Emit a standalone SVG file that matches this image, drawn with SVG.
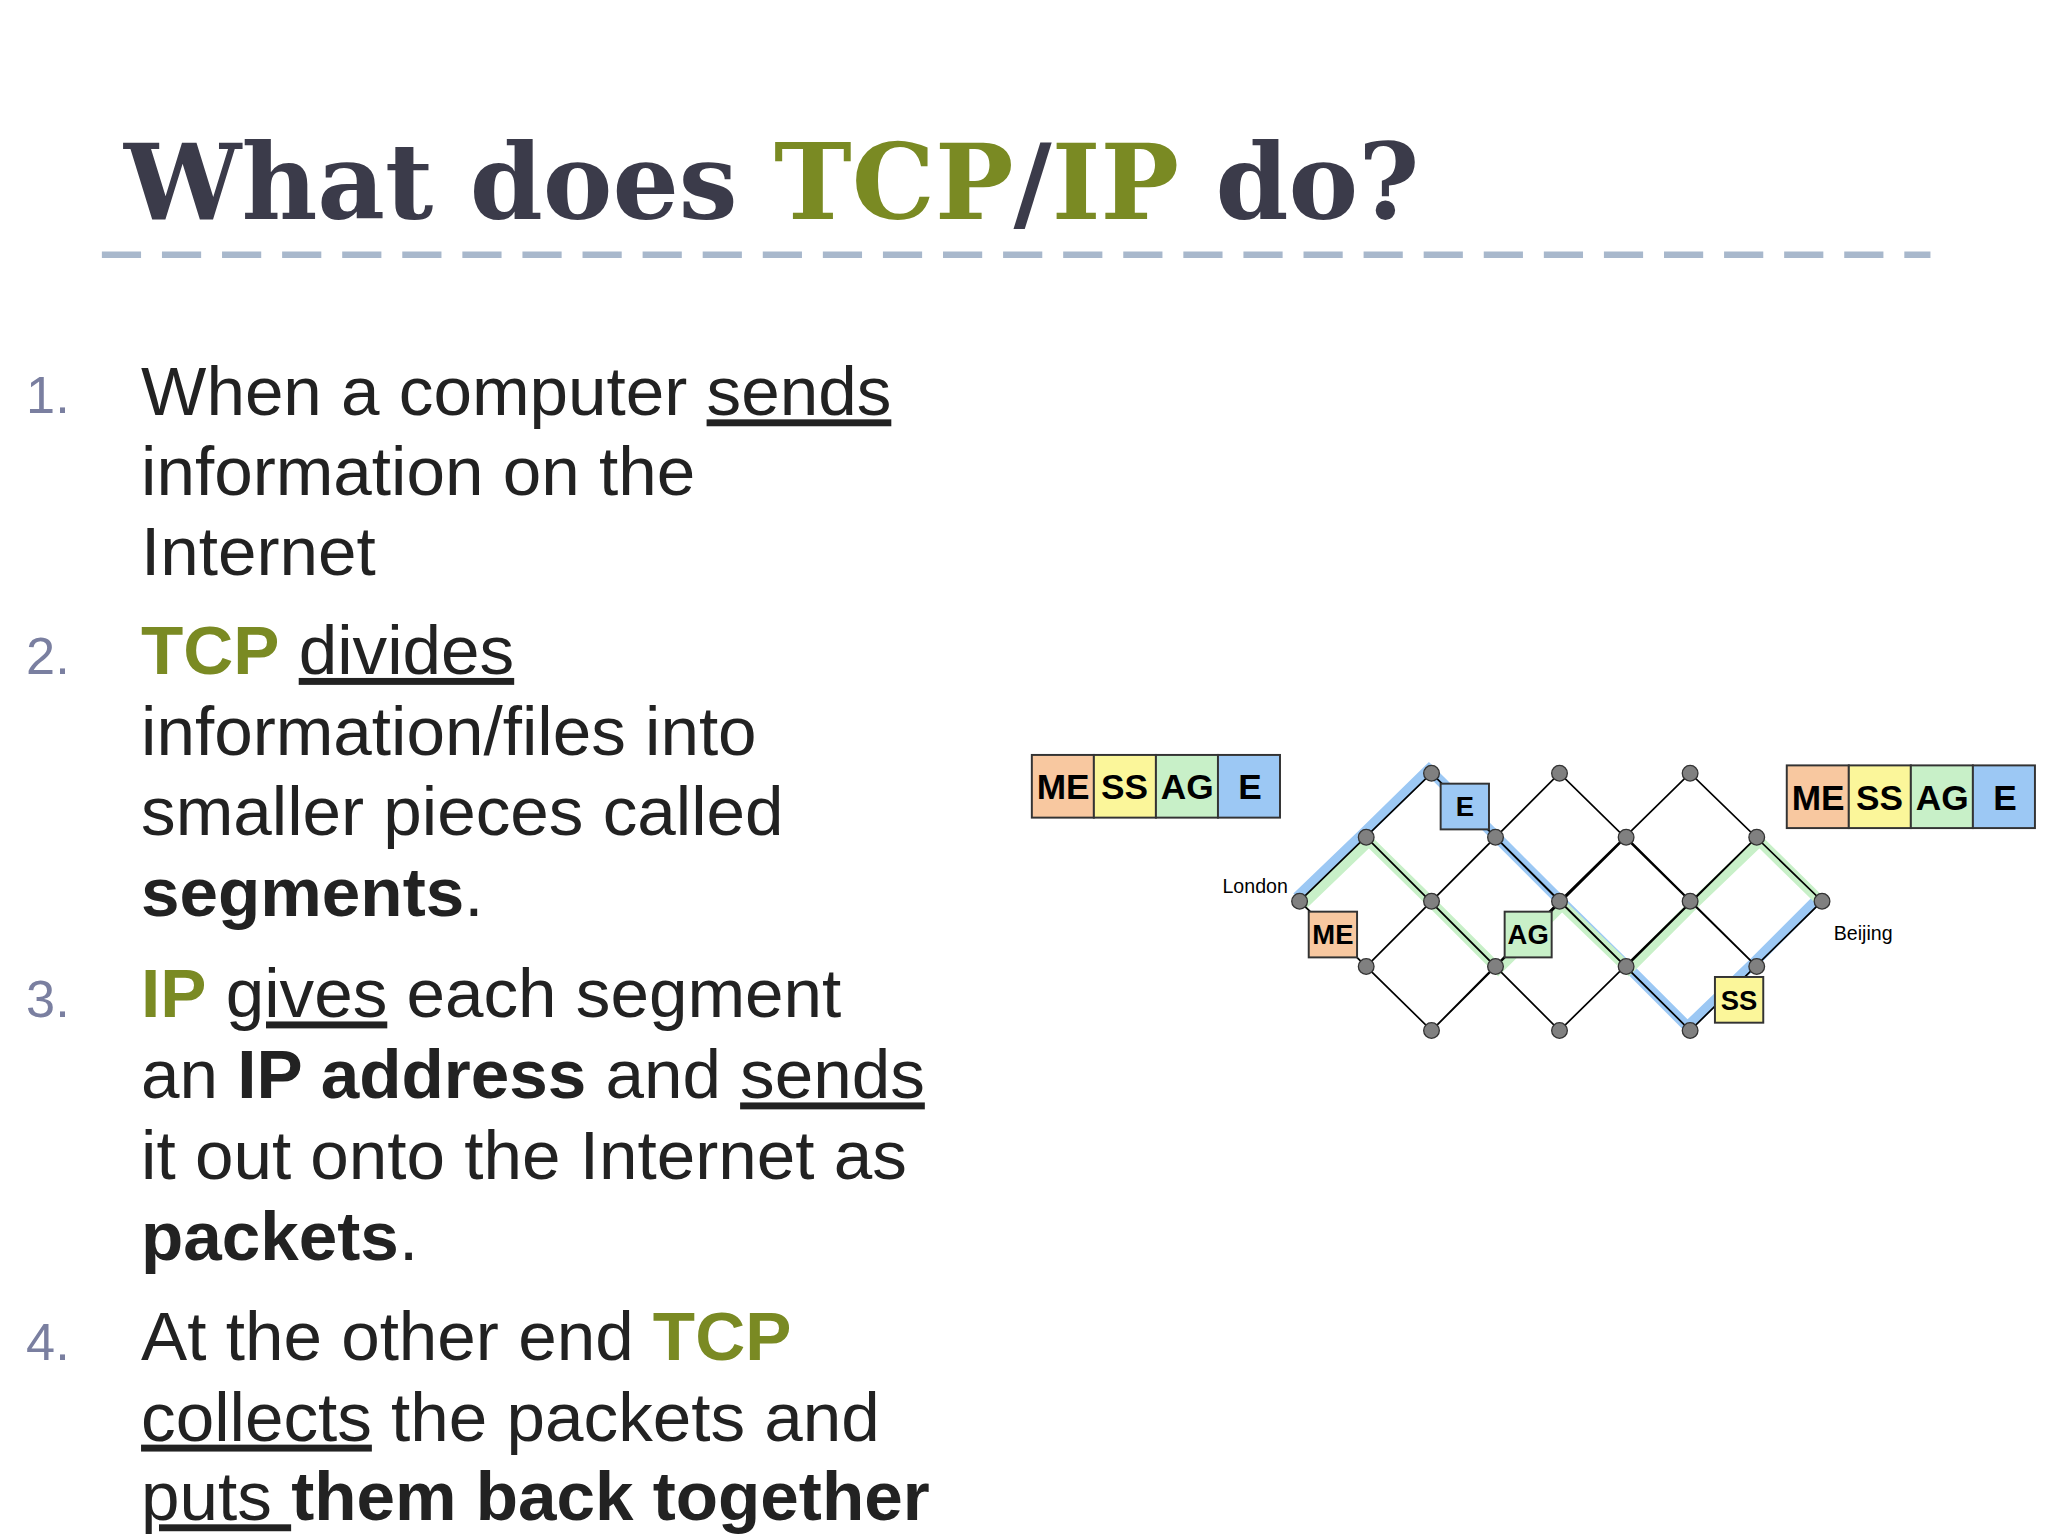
<svg xmlns="http://www.w3.org/2000/svg" width="2048" height="1536" viewBox="0 0 2048 1536">
<style>
.t{font-family:"DejaVu Serif",serif;font-weight:bold;font-size:80px;fill:#3b3b4a}
.g{fill:#7a8a23;font-weight:bold}
.b{font-family:"Liberation Sans",Arial,sans-serif;font-size:53px;fill:#222}
.n{font-family:"Liberation Sans",Arial,sans-serif;font-size:40px;fill:#7a7fa0}
.u{text-decoration:underline}
.k{font-weight:bold}
.e{stroke:#000;stroke-width:1.3;fill:none}
.nd{fill:#808080;stroke:#333;stroke-width:1}
.c{stroke:#333;stroke-width:1.5}
.l{font-family:"Liberation Sans",Arial,sans-serif;font-size:21px;font-weight:bold;fill:#000;text-anchor:middle}
.s{font-family:"Liberation Sans",Arial,sans-serif;font-size:15px;fill:#000}
</style>
<rect width="2048" height="1536" fill="#fff"/>
<g transform="scale(1.30612)">
<g id="title">
<text class="t" x="95" y="168">What does <tspan class="g">TCP</tspan>/<tspan class="g">IP</tspan> do?</text>
<line x1="78" y1="195" x2="1478" y2="195" stroke="#a8b8cc" stroke-width="5" stroke-dasharray="30 16"/>
</g>
<g id="list">
<text class="n" x="20" y="316">1.</text>
<text class="b" x="108" y="318">When a computer <tspan class="u">sends</tspan></text>
<text class="b" x="108" y="379">information on the</text>
<text class="b" x="108" y="440">Internet</text>
<text class="n" x="20" y="516">2.</text>
<text class="b" x="108" y="516"> <tspan class="g">TCP</tspan> <tspan class="u">divides</tspan></text>
<text class="b" x="108" y="578">information/files into</text>
<text class="b" x="108" y="639">smaller pieces called</text>
<text class="b" x="108" y="701"><tspan class="k">segments</tspan>.</text>
<text class="n" x="20" y="779">3.</text>
<text class="b" x="108" y="779"> <tspan class="g">IP</tspan> <tspan class="u">gives</tspan> each segment</text>
<text class="b" x="108" y="841">an <tspan class="k">IP address</tspan> and <tspan class="u">sends</tspan></text>
<text class="b" x="108" y="903">it out onto the Internet as</text>
<text class="b" x="108" y="965"><tspan class="k">packets</tspan>.</text>
<text class="n" x="20" y="1041">4.</text>
<text class="b" x="108" y="1041">At the other end <tspan class="g">TCP</tspan></text>
<text class="b" x="108" y="1103"><tspan class="u">collects</tspan> the packets and</text>
<text class="b" x="108" y="1164"><tspan class="u">puts </tspan><tspan class="k">them back together</tspan></text>
</g>
<g id="connectors">
<polyline points="993,687 1044,638 1094,589 1143,638 1192,687 1243,737 1292,786 1343,737 1393,687" fill="none" stroke="#9cc8f4" stroke-width="8"/>
<polyline points="997,693 1048,644 1098,693 1147,742 1196,693 1247,742 1296,693 1347,644 1397,693" fill="none" stroke="#c8f0c8" stroke-width="8"/>
<path class="e" d="M995,690L1096,592L1194,690L1294,592L1395,690L1294,789L1194,690L1096,789L995,690Z M1046,641L1194,789L1345,641 M1046,740L1194,592L1345,740 M1145,641L1046,740 M1145,641L1294,789 M1245,641L1096,789 M1245,641L1345,740 M1046,641L1145,740 M1345,641L1245,740"/>
</g>
<g id="nodes">
<g fill="#808080" stroke="#333">
<circle cx="1096" cy="592" r="6"/><circle cx="1194" cy="592" r="6"/><circle cx="1294" cy="592" r="6"/>
<circle cx="1046" cy="641" r="6"/><circle cx="1145" cy="641" r="6"/><circle cx="1245" cy="641" r="6"/><circle cx="1345" cy="641" r="6"/>
<circle cx="995" cy="690" r="6"/><circle cx="1096" cy="690" r="6"/><circle cx="1194" cy="690" r="6"/><circle cx="1294" cy="690" r="6"/><circle cx="1395" cy="690" r="6"/>
<circle cx="1046" cy="740" r="6"/><circle cx="1145" cy="740" r="6"/><circle cx="1245" cy="740" r="6"/><circle cx="1345" cy="740" r="6"/>
<circle cx="1096" cy="789" r="6"/><circle cx="1194" cy="789" r="6"/><circle cx="1294" cy="789" r="6"/>
</g>
</g>
<g id="packets">
<rect class="c" x="1103" y="600" width="37" height="35" fill="#9cc8f4"/><text class="l" x="1121.5" y="625">E</text>
<rect class="c" x="1002" y="698" width="37" height="35" fill="#f8c8a0"/><text class="l" x="1020.5" y="723">ME</text>
<rect class="c" x="1152" y="698" width="36" height="35" fill="#c8f0c8"/><text class="l" x="1170" y="723">AG</text>
<rect class="c" x="1313" y="748" width="37" height="35" fill="#fbf69a"/><text class="l" x="1331.5" y="773">SS</text>
</g>
<g id="message-left">
<rect class="c" x="790" y="578" width="47.5" height="48" fill="#f8c8a0"/>
<rect class="c" x="837.5" y="578" width="47.5" height="48" fill="#fbf69a"/>
<rect class="c" x="885" y="578" width="47.5" height="48" fill="#c8f0c8"/>
<rect class="c" x="932.5" y="578" width="47.5" height="48" fill="#9cc8f4"/>
<text class="l" style="font-size:27px" x="814" y="612">ME</text><text class="l" style="font-size:27px" x="861" y="612">SS</text><text class="l" style="font-size:27px" x="909" y="612">AG</text><text class="l" style="font-size:27px" x="957" y="612">E</text>
</g>
<g id="message-right">
<rect class="c" x="1368" y="586" width="47.5" height="48" fill="#f8c8a0"/>
<rect class="c" x="1415.5" y="586" width="47.5" height="48" fill="#fbf69a"/>
<rect class="c" x="1463" y="586" width="47.5" height="48" fill="#c8f0c8"/>
<rect class="c" x="1510.5" y="586" width="47.5" height="48" fill="#9cc8f4"/>
<text class="l" style="font-size:27px" x="1392" y="620">ME</text><text class="l" style="font-size:27px" x="1439" y="620">SS</text><text class="l" style="font-size:27px" x="1487" y="620">AG</text><text class="l" style="font-size:27px" x="1535" y="620">E</text>
</g>
<g id="labels">
<text class="s" x="986" y="684" text-anchor="end">London</text>
<text class="s" x="1404" y="720">Beijing</text>
</g>
</g>
</svg>
